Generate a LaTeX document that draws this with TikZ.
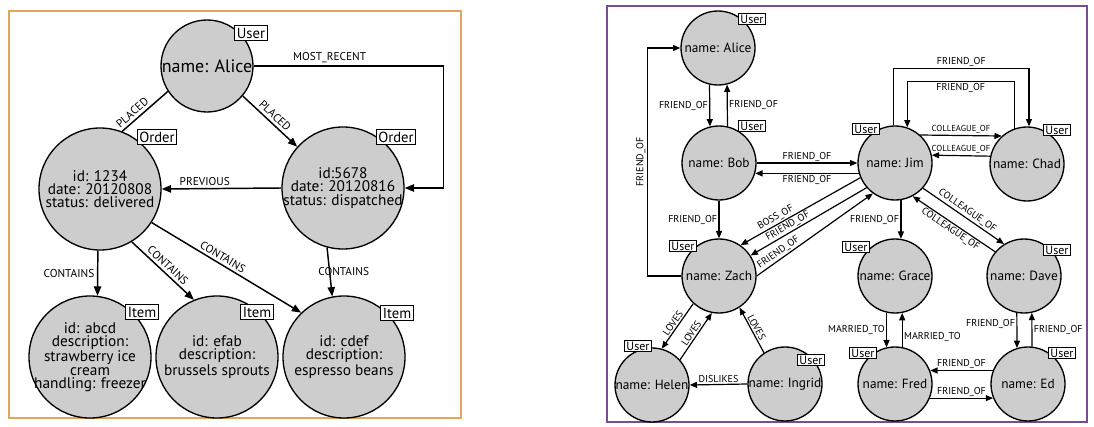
\documentclass[tikz,border=0pt]{standalone}
\usepackage{fontspec}
\setmainfont{PT Sans}
\usepackage{tikz}
\usetikzlibrary{arrows.meta,calc}
\definecolor{nodegray}{RGB}{205,205,205}
\definecolor{orangeframe}{RGB}{226,166,88}
\definecolor{purpleframe}{RGB}{118,78,150}

\begin{document}
\begin{tikzpicture}[x=0.75pt, y=-0.75pt,
    gnode/.style={circle, draw, fill=nodegray, line width=1pt, align=center, inner sep=0pt},
    bignode/.style={gnode, minimum size=91.5pt, inner sep=-3pt, font=\fontsize{11.5}{10}\selectfont},
    smallnode/.style={gnode, minimum size=55.5pt, font=\fontsize{10}{12}\selectfont},
    tagbig/.style={draw, fill=white, line width=0.8pt, inner sep=1.5pt, font=\fontsize{11}{12}\selectfont},
    tagsmall/.style={draw, fill=white, line width=0.7pt, inner sep=1.2pt, font=\fontsize{9}{10}\selectfont},
    relbig/.style={-{Triangle[length=7pt,width=5.5pt]}, line width=1.1pt},
    relsmall/.style={-{Triangle[length=5.5pt,width=4.5pt]}, line width=0.9pt},
    labbig/.style={font=\fontsize{8.5}{9}\selectfont, inner sep=2pt},
    labsmall/.style={font=\fontsize{7.5}{8}\selectfont, inner sep=1pt},
    labtiny/.style={font=\fontsize{6.5}{7}\selectfont, inner sep=1pt}]
    \useasboundingbox (0,0) rectangle (1094,427);

    % Orders graph
    \draw[orangeframe, line width=0.8pt] (9,11) rectangle (461,418);
    \node[gnode, minimum size=69pt, font=\fontsize{13.5}{14}\selectfont] (usr) at (207,66) {name: Alice};
    \node[bignode] (ord1) at (100,189) {id: 1234\\date: 20120808\\status: delivered};
    \node[bignode] (ord2) at (343,188) {id:5678\\date: 20120816\\status: dispatched};
    \node[bignode] (itm1) at (90,357) {id: abcd\\description:\\strawberry ice\\cream\\handling: freezer};
    \node[bignode] (itm2) at (217,357) {id: efab\\description:\\brussels sprouts};
    \node[bignode] (itm3) at (344,357) {id: cdef\\description:\\espresso beans};

    \draw[line width=1.1pt] (usr.213) -- (ord1.69) node[labbig, above, sloped, pos=0.67] {PLACED};
    \draw[relbig] (usr.320) -- (ord2.138) node[labbig, above, sloped, midway] {PLACED};
    \draw[relbig] (usr.east) -- ++(190,0) node[labbig, above, pos=0.4] {MOST\_RECENT} |- (ord2.east);
    \draw[relbig] (ord2.west) -- (ord1.east) node[labbig, above, pos=0.64] {PREVIOUS};
    \draw[relbig] (ord1.268) -- (itm1.83) node[labbig, left, midway] {CONTAINS};
    \draw[relbig] (ord1.301) -- (itm2.112) node[labbig, above, sloped, midway] {CONTAINS};
    \draw[relbig] (ord1.327) -- (itm3.134) node[labbig, above, sloped, pos=0.45] {CONTAINS};
    \draw[relbig] (ord2.255) -- (itm3.101) node[labbig, right, midway, xshift=-11pt] {CONTAINS};

    \node[tagbig] (usrT) at ([shift={(44,-33)}]usr.center) {User};
    \node[tagbig] (ord1T) at ([shift={(57,-52)}]ord1.center) {Order};
    \node[tagbig] (ord2T) at ([shift={(53,-51)}]ord2.center) {Order};
    \node[tagbig] (itm1T) at ([shift={(52,-45)}]itm1.center) {Item};
    \node[tagbig] (itm2T) at ([shift={(40,-45)}]itm2.center) {Item};
    \node[tagbig] (itm3T) at ([shift={(53,-44)}]itm3.center) {Item};

    % Social graph
    \draw[purpleframe, line width=1pt] (607,6) rectangle (1087,422);
    \node[smallnode] (alice) at (718,48) {name: Alice};
    \node[smallnode] (bob) at (719,163) {name: Bob};
    \node[smallnode] (jim) at (895,163) {name: Jim};
    \node[smallnode] (chad) at (1027,164) {name: Chad};
    \node[smallnode] (zach) at (719,276) {name: Zach};
    \node[smallnode] (helen) at (652,385) {name: Helen};
    \node[smallnode] (ingrid) at (785,384) {name: Ingrid};
    \node[smallnode] (grace) at (895,276) {name: Grace};
    \node[smallnode] (dave) at (1024,276) {name: Dave};
    \node[smallnode] (fred) at (895,384) {name: Fred};
    \node[smallnode] (ed) at (1028,384) {name: Ed};

    % Alice, Bob, Zach
    \draw[relsmall] (alice.257) -- (bob.104) node[labsmall, left, midway] {FRIEND\_OF};
    \draw[relsmall] (bob.77) -- (alice.284) node[labsmall, right, midway] {FRIEND\_OF};
    \draw[relsmall] (bob.0) -- (jim.180) node[labsmall, above, midway] {FRIEND\_OF};
    \draw[relsmall] (jim.196) -- (bob.344) node[labsmall, below, midway] {FRIEND\_OF};
    \draw[relsmall] (bob.south) -- (zach.north) node[labsmall, left, midway] {FRIEND\_OF};
    \draw[relsmall] (zach.west) -- ++(-34,0) |- (alice.west) node[labsmall, above, sloped, pos=0.25] {FRIEND\_OF};

    % Jim and Chad
    \draw[relsmall] (jim.92) -- ++(0,-57) -| (chad.87) node[labsmall, above, pos=0.25] {FRIEND\_OF};
    \draw[relsmall] (chad.110) -- ++(0,-47) -| (jim.71) node[labsmall, below, pos=0.25] {FRIEND\_OF};
    \draw[relsmall] (jim.48) -- (chad.132) node[labtiny, above, midway] {COLLEAGUE\_OF};
    \draw[relsmall] (chad.168) -- (jim.12) node[labtiny, above, midway] {COLLEAGUE\_OF};

    % Jim and Zach
    \draw[relsmall] (jim.203) -- (zach.55) node[labsmall, above, sloped, pos=0.68] {BOSS\_OF};
    \draw[relsmall] (jim.221) -- (zach.33) node[labsmall, above, sloped, pos=0.65] {FRIEND\_OF};
    \draw[relsmall] (zach.0) -- (jim.234) node[labsmall, above, sloped, pos=0.22] {FRIEND\_OF};

    % Zach, Helen, Ingrid
    \draw[relsmall] (zach.227) -- (helen.75) node[labsmall, above, sloped, midway] {LOVES};
    \draw[relsmall] (helen.42) -- (zach.259) node[labsmall, above, sloped, midway] {LOVES};
    \draw[relsmall] (ingrid.124) -- (zach.303) node[labsmall, above, sloped, midway] {LOVES};
    \draw[relsmall] (ingrid.west) -- (helen.east) node[labsmall, above, midway] {DISLIKES};

    % Jim, Grace, Dave
    \draw[relsmall] (jim.279) -- (grace.81) node[labsmall, left, midway] {FRIEND\_OF};
    \draw[relsmall] (jim.318) -- (dave.122) node[labsmall, above, sloped, midway] {COLLEAGUE\_OF};
    \draw[relsmall] (dave.140) -- (jim.298) node[labsmall, below, sloped, midway] {COLLEAGUE\_OF};

    % Grace, Fred, Dave, Ed
    \draw[relsmall] (grace.257) -- (fred.103) node[labsmall, left, midway] {MARRIED\_TO};
    \draw[relsmall] (fred.79) -- (grace.281) node[labsmall, right, pos=0.3] {MARRIED\_TO};
    \draw[relsmall] (dave.259) -- (ed.107) node[labsmall, left, pos=0.3] {FRIEND\_OF};
    \draw[relsmall] (ed.84) -- (dave.282) node[labsmall, right, midway] {FRIEND\_OF};
    \draw[relsmall] (ed.159) -- (fred.21) node[labsmall, above, midway] {FRIEND\_OF};
    \draw[relsmall] (fred.338) -- (ed.202) node[labsmall, above, midway] {FRIEND\_OF};

    \node[tagsmall] (aliceT) at ([shift={(34,-29)}]alice.center) {User};
    \node[tagsmall] (bobT) at ([shift={(33,-37)}]bob.center) {User};
    \node[tagsmall] (jimT) at ([shift={(-29,-34)}]jim.center) {User};
    \node[tagsmall] (chadT) at ([shift={(30,-34)}]chad.center) {User};
    \node[tagsmall] (zachT) at ([shift={(-36,-30)}]zach.center) {User};
    \node[tagsmall] (helenT) at ([shift={(-14,-39)}]helen.center) {User};
    \node[tagsmall] (ingridT) at ([shift={(26,-24)}]ingrid.center) {User};
    \node[tagsmall] (graceT) at ([shift={(-39,-29)}]grace.center) {User};
    \node[tagsmall] (daveT) at ([shift={(33,-26)}]dave.center) {User};
    \node[tagsmall] (fredT) at ([shift={(-32,-31)}]fred.center) {User};
    \node[tagsmall] (edT) at ([shift={(34,-31)}]ed.center) {User};
\end{tikzpicture}
\end{document}
